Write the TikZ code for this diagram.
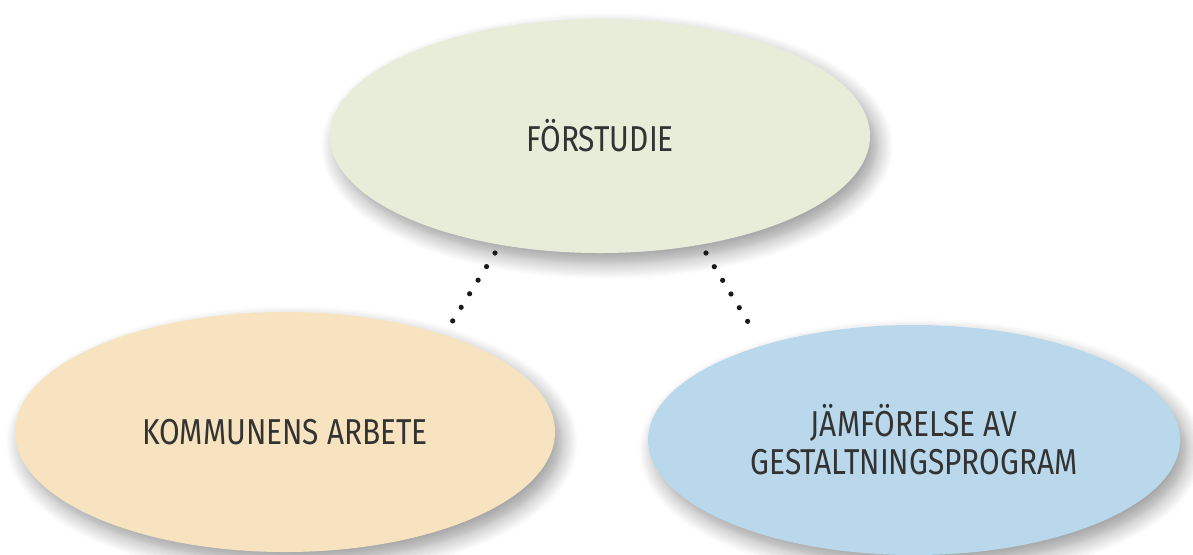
\documentclass[tikz,border=0pt]{standalone}
\usepackage{fontspec}
\setmainfont{Fira Sans}[FakeStretch=0.83]
\usetikzlibrary{shapes.geometric,shadows.blur}
\definecolor{studiegreen}{HTML}{E7EDD8}
\definecolor{kommunsand}{HTML}{F7E3BF}
\definecolor{jamforblue}{HTML}{B9D8EB}
\tikzstyle{oval}=[ellipse, inner sep=0pt, text=black!80, align=center,
  font=\fontsize{18}{19}\selectfont,
  blur shadow={shadow xshift=3.5pt, shadow yshift=-5pt, shadow blur radius=8pt, shadow blur steps=10, shadow opacity=40}]
\tikzstyle{dotline}=[draw=black!90, line width=2.6pt, line cap=round, dash pattern=on 0pt off 8pt]

\begin{document}
\begin{tikzpicture}[x=0.5pt, y=-0.5pt]
  \useasboundingbox (0,0) rectangle (1193,554);

  % ovals
  \node[oval, fill=studiegreen, minimum width=270pt, minimum height=117pt] (forstudie) at (600,136) {FÖRSTUDIE};
  \node[oval, fill=kommunsand, minimum width=270pt, minimum height=120pt] (kommun) at (285,432) {KOMMUNENS ARBETE};
  \node[oval, fill=jamforblue, minimum width=266pt, minimum height=115pt] (jamfor) at (914,440) {JÄMFÖRELSE AV\\GESTALTNINGSPROGRAM};

  % dotted links
  \coordinate (fl) at (495,253);
  \coordinate (kt) at (452,322);
  \coordinate (fr) at (706,253);
  \coordinate (jt) at (748,322);
  \draw[dotline] (fl) -- (kt);
  \draw[dotline] (fr) -- (jt);
\end{tikzpicture}
\end{document}
